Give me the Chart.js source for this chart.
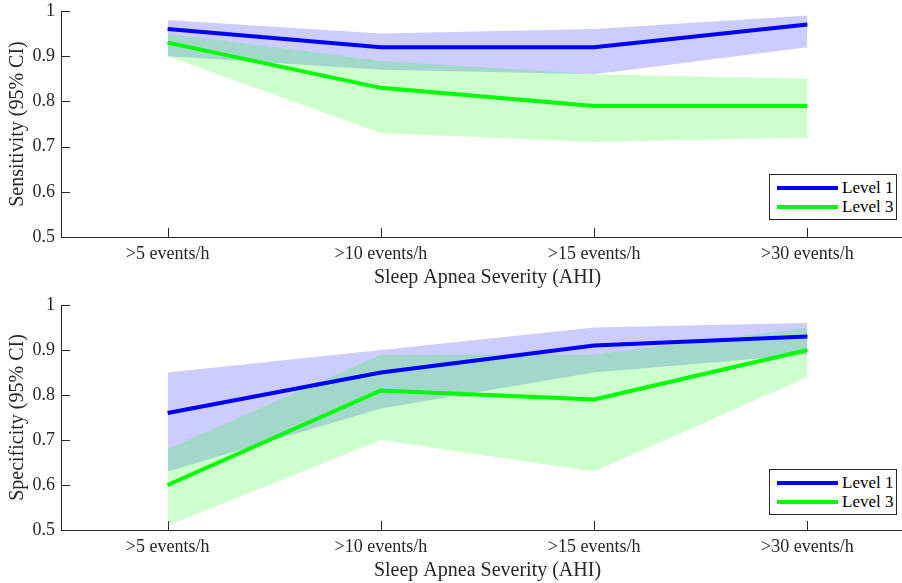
<!DOCTYPE html>
<html>
<head>
<meta charset="utf-8">
<script src="https://cdn.jsdelivr.net/npm/chart.js@4/dist/chart.umd.min.js"></script>
<style>
  html, body { margin:0; padding:0; background:#fff; }
  body { width:902px; height:583px; overflow:hidden; font-family:'Liberation Serif','Times New Roman',serif; color:#262626; }
  .panel { position:relative; width:902px; overflow:hidden; }
  .panel canvas { display:block; }
  .legend { position:absolute; left:769px; width:128px; height:46px; border:1px solid #262626; background:#fff; box-sizing:border-box; }
  .row { position:absolute; left:7px; height:20px; }
  .row .sw { position:absolute; left:0; top:8px; width:61px; height:4px; }
  .row .tx { position:absolute; left:65px; top:0; font-size:17px; line-height:20px; white-space:nowrap; color:#000; }
</style>
</head>
<body>
<div class="panel" style="height:291px">
  <canvas id="c1" width="914" height="291"></canvas>
  <div class="legend" style="top:174px">
    <div class="row" style="top:3px"><div class="sw" style="background:#0000ff"></div><div class="tx" id="l1a"></div></div>
    <div class="row" style="top:22px"><div class="sw" style="background:#00ff00"></div><div class="tx" id="l1b"></div></div>
  </div>
</div>
<div class="panel" style="height:292px">
  <canvas id="c2" width="914" height="292"></canvas>
  <div class="legend" style="top:178px">
    <div class="row" style="top:3px"><div class="sw" style="background:#0000ff"></div><div class="tx" id="l2a"></div></div>
    <div class="row" style="top:22px"><div class="sw" style="background:#00ff00"></div><div class="tx" id="l2b"></div></div>
  </div>
</div>
<script>
// ---- data ----
const categories = ['>5 events/h', '>10 events/h', '>15 events/h', '>30 events/h'];
const yTicks = [0.5, 0.6, 0.7, 0.8, 0.9, 1];
const seriesNames = ['Level 1', 'Level 3'];
const xTitle = 'Sleep Apnea Severity (AHI)';

const sensL1   = [0.96, 0.92, 0.92, 0.97];
const sensL1Lo = [0.90, 0.87, 0.86, 0.92];
const sensL1Hi = [0.98, 0.95, 0.96, 0.99];
const sensL3   = [0.93, 0.83, 0.79, 0.79];
const sensL3Lo = [0.90, 0.73, 0.71, 0.72];
const sensL3Hi = [0.95, 0.89, 0.86, 0.85];

const specL1   = [0.76, 0.85, 0.91, 0.93];
const specL1Lo = [0.63, 0.77, 0.85, 0.89];
const specL1Hi = [0.85, 0.90, 0.95, 0.96];
const specL3   = [0.60, 0.81, 0.79, 0.90];
const specL3Lo = [0.51, 0.70, 0.63, 0.84];
const specL3Hi = [0.68, 0.89, 0.89, 0.95];

// ---- helpers ----
const FONT = "'Liberation Serif','Times New Roman',serif";
const AX = '#262626';
const pts = arr => arr.map((v, i) => ({ x: i, y: v }));

const innerTicks = {
  id: 'innerTicks',
  beforeDatasetsDraw(chart) {
    const { ctx, scales: { x, y }, chartArea: a } = chart;
    ctx.save();
    ctx.strokeStyle = AX; ctx.lineWidth = 1;
    ctx.beginPath();
    x.ticks.forEach(t => {
      const px = Math.round(x.getPixelForValue(t.value)) + 0.5;
      ctx.moveTo(px, a.bottom); ctx.lineTo(px, a.bottom - 9);
    });
    y.ticks.forEach(t => {
      const py = Math.round(y.getPixelForValue(t.value)) + 0.5;
      ctx.moveTo(a.left, py); ctx.lineTo(a.left + 9, py);
    });
    ctx.stroke();
    ctx.restore();
  }
};

function makeChart(id, yTitle, l1, l1lo, l1hi, l3, l3lo, l3hi, padTop, xHeight, xTitlePadB) {
  const band = (data, color, fill) => ({
    data: pts(data), borderWidth: 0, pointRadius: 0, backgroundColor: color,
    fill: fill, tension: 0
  });
  return new Chart(document.getElementById(id), {
    type: 'line',
    data: {
      datasets: [
        { label: seriesNames[0], data: pts(l1), borderColor: '#0000ff', borderWidth: 4, pointRadius: 0, fill: false, tension: 0 },
        { label: seriesNames[1], data: pts(l3), borderColor: '#00ff00', borderWidth: 4, pointRadius: 0, fill: false, tension: 0 },
        band(l3hi, 'rgba(0,255,0,0.2)', '+1'),
        band(l3lo, 'rgba(0,255,0,0.2)', false),
        band(l1hi, 'rgba(0,0,255,0.2)', '+1'),
        band(l1lo, 'rgba(0,0,255,0.2)', false)
      ]
    },
    options: {
      responsive: false,
      animation: false,
      layout: { padding: { top: padTop, left: 0, right: 0, bottom: 0 } },
      plugins: { legend: { display: false }, tooltip: { enabled: false } },
      scales: {
        x: {
          type: 'linear', min: -0.5, max: 3.5,
          afterBuildTicks: s => { s.ticks = categories.map((c, i) => ({ value: i })); },
          afterFit: s => { s.height = xHeight; s.paddingLeft = 0; s.paddingRight = 0; },
          ticks: { callback: v => categories[v], autoSkip: false, maxRotation: 0, padding: 6,
                   color: AX, font: { family: FONT, size: 18 } },
          grid: { display: true, drawOnChartArea: false, drawTicks: false },
          border: { display: true, color: AX, width: 1 },
          title: { display: true, text: xTitle, color: AX, font: { family: FONT, size: 20 },
                   padding: { top: 0, bottom: xTitlePadB } }
        },
        y: {
          min: 0.5, max: 1,
          afterBuildTicks: s => { s.ticks = yTicks.map(v => ({ value: v })); },
          afterFit: s => { s.width = 61; s.paddingTop = 0; s.paddingBottom = 0; },
          ticks: { callback: v => String(v), padding: 6, color: AX, font: { family: FONT, size: 18 } },
          grid: { display: true, drawOnChartArea: false, drawTicks: false },
          border: { display: true, color: AX, width: 1 },
          title: { display: true, text: yTitle, color: AX, font: { family: FONT, size: 20 },
                   padding: { top: 6, bottom: 0 } }
        }
      }
    },
    plugins: [innerTicks]
  });
}

makeChart('c1', 'Sensitivity (95% CI)', sensL1, sensL1Lo, sensL1Hi, sensL3, sensL3Lo, sensL3Hi, 11, 54, 1);
makeChart('c2', 'Specificity (95% CI)', specL1, specL1Lo, specL1Hi, specL3, specL3Lo, specL3Hi, 14, 53, 0);

['l1a', 'l2a'].forEach(id => document.getElementById(id).textContent = seriesNames[0]);
['l1b', 'l2b'].forEach(id => document.getElementById(id).textContent = seriesNames[1]);
</script>
</body>
</html>
